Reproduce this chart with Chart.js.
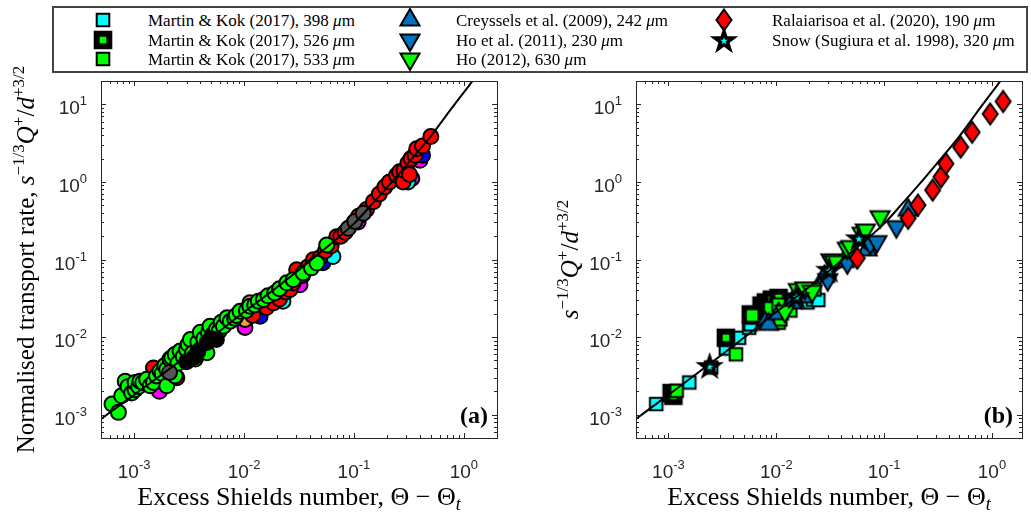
<!DOCTYPE html>
<html>
<head>
<meta charset="utf-8">
<script src="https://cdn.jsdelivr.net/npm/chart.js@4.4.0/dist/chart.umd.min.js"></script>
<style>
  html, body { margin: 0; padding: 0; background: #fff; }
  #wrap { position: relative; width: 1031px; height: 515px; overflow: hidden; }
  canvas.chart { position: absolute; top: 0; }
  #legend { position: absolute; left: 52px; top: 6px; width: 976px; height: 67px; box-sizing: border-box; border: 2px solid #444; background: #fff; }
  #legend span { position: absolute; font: 17px "Liberation Serif", serif; line-height: 17px; white-space: nowrap; transform: translateY(-50%); color: #000; }
  #legend canvas { position: absolute; }
</style>
</head>
<body>
<div id="wrap">
  <canvas id="chartA" class="chart" width="520" height="515" style="left:0"></canvas>
  <canvas id="chartB" class="chart" width="511" height="515" style="left:520px"></canvas>
  <div id="legend"></div>
</div>
<script>
// ---- axes ----
const xMin = 5e-4, xMaxA = 2, xMaxB = 1.9;
const yMin = 5e-4, yMax = 20;
const xDecades = [1e-3, 1e-2, 1e-1, 1];
const xExps = ['-3', '-2', '-1', '0'];
const yDecades = [1e-3, 1e-2, 1e-1, 1, 10];
const yExps = ['-3', '-2', '-1', '0', '1'];
const minorSteps = [2, 3, 4, 5, 6, 7, 8, 9];

// ---- fitted curve ----
const curve = [[5e-4, 8.8e-4], [1e-3, 1.8e-3], [2e-3, 3.7e-3], [5e-3, 9.8e-3], [0.01, 0.021], [0.02, 0.044],
  [0.05, 0.125], [0.1, 0.29], [0.15, 0.54], [0.2, 0.85], [0.3, 1.65], [0.5, 3.9], [0.8, 9.5], [1.2, 20], [1.5, 30]];

// ---- panel (a) ----
const greenA = [[6.3e-4, 1.37e-3], [7.2e-4, 1.07e-3], [7.7e-4, 1.75e-3], [8.3e-4, 2.7e-3], [8.8e-4, 2.3e-3], [9.5e-4, 1.9e-3],
  [1.02e-3, 2.1e-3], [1.02e-3, 2.6e-3], [1.1e-3, 2.3e-3], [1.13e-3, 2.7e-3], [1.2e-3, 2.6e-3], [1.3e-3, 2.85e-3],
  [1.4e-3, 2.35e-3], [1.5e-3, 2.6e-3], [1.6e-3, 3.15e-3], [1.72e-3, 3.65e-3], [1.8e-3, 3.4e-3], [1.9e-3, 4.3e-3],
  [1.98e-3, 3.85e-3], [1.98e-3, 2.35e-3], [2.12e-3, 5.2e-3], [2.2e-3, 5.45e-3], [2.36e-3, 6.0e-3], [2.36e-3, 3.15e-3],
  [2.5e-3, 4.6e-3], [2.62e-3, 6.6e-3], [2.8e-3, 5.6e-3], [3.0e-3, 6.9e-3], [3.1e-3, 8.1e-3], [3.25e-3, 9.3e-3],
  [3.4e-3, 6.2e-3], [3.6e-3, 5.2e-3], [3.8e-3, 8.6e-3], [4.0e-3, 6.9e-3], [4.0e-3, 0.0115], [4.3e-3, 9.5e-3],
  [4.6e-3, 6.3e-3], [4.75e-3, 0.0114], [4.9e-3, 0.0138], [5.2e-3, 0.0108], [5.6e-3, 0.0126], [5.9e-3, 0.0118],
  [6.2e-3, 0.0155], [6.5e-3, 0.0138], [7.0e-3, 0.0177], [7.5e-3, 0.016], [8.2e-3, 0.0175], [8.5e-3, 0.019],
  [9.2e-3, 0.0215], [0.0105, 0.022], [0.0113, 0.025], [0.0125, 0.026], [0.0135, 0.029], [0.015, 0.0305],
  [0.0165, 0.034], [0.019, 0.037], [0.021, 0.042], [0.0245, 0.05], [0.028, 0.055], [0.0345, 0.067],
  [0.041, 0.078], [0.046, 0.09], [0.0565, 0.154]];
const redA = [[0.0015, 0.004], [0.00245, 0.003], [0.012, 0.019], [0.016, 0.024], [0.0185, 0.0276], [0.021, 0.031],
  [0.024, 0.038], [0.0262, 0.041], [0.028, 0.0498], [0.0301, 0.0738], [0.034, 0.062], [0.038, 0.08],
  [0.0427, 0.099], [0.049, 0.105], [0.055, 0.13], [0.062, 0.15], [0.0697, 0.197], [0.076, 0.2], [0.083, 0.224],
  [0.1, 0.3], [0.11, 0.36], [0.13, 0.44], [0.15, 0.555], [0.17, 0.7], [0.191, 0.863], [0.21, 1.0], [0.244, 1.22],
  [0.26, 1.35], [0.28, 1.0], [0.285, 1.41], [0.31, 1.75], [0.32, 1.25], [0.33, 2.0], [0.359, 2.2], [0.372, 2.68],
  [0.42, 2.9], [0.5, 3.85]];
const blackA = [[0.003, 0.0048], [0.0035, 0.0055], [0.0038, 0.0065], [0.0046, 0.0085], [0.005, 0.0095], [0.0056, 0.0093]];
const greyA = [[0.0021, 0.0035], [0.0887, 0.252], [0.102, 0.31], [0.1216, 0.394]];
const magentaA = [[0.0017, 0.002], [0.0102, 0.0133], [0.0323, 0.0474], [0.109, 0.304], [0.336, 1.11], [0.398, 1.9]];
const blueA = [[0.014, 0.0186], [0.0522, 0.0908], [0.42, 2.2]];
const orangeA = [[0.0113, 0.0276], [0.0102, 0.0169]];
const cyanA = [[0.0226, 0.029], [0.0644, 0.109], [0.31, 1.0]];

// ---- panel (b) ----
const mk398 = [[7.7e-4, 1.37e-3], [1.56e-3, 2.6e-3], [2.49e-3, 4.06e-3], [3.41e-3, 7.1e-3], [4.52e-3, 9.8e-3],
  [5.6e-3, 0.0132], [5.78e-3, 0.0146], [0.0195, 0.028], [0.0219, 0.0304], [0.0245, 0.03]];
const mk526 = [[1.07e-3, 1.9e-3], [1.11e-3, 1.75e-3], [3.41e-3, 9.8e-3], [5.8e-3, 0.0196], [6.2e-3, 0.019],
  [7.3e-3, 0.0255], [8.0e-3, 0.028], [8.5e-3, 0.0249], [9.1e-3, 0.0304], [0.0105, 0.032], [0.0105, 0.0238]];
const mk533 = [[1.19e-3, 2.03e-3], [4.22e-3, 6.0e-3], [5.97e-3, 0.019], [8.8e-3, 0.0235], [0.0105, 0.0153],
  [0.0109, 0.0169], [0.0105, 0.0262], [0.0135, 0.022], [0.0226, 0.041]];
const creyssels = [[7.9e-3, 0.0153], [8.5e-3, 0.0146], [0.0105, 0.02], [0.0139, 0.0276], [0.0175, 0.033],
  [0.028, 0.0605], [0.0426, 0.094], [0.0695, 0.133], [0.167, 0.433]];
const ho2011 = [[0.03, 0.055], [0.0456, 0.0908], [0.0745, 0.162], [0.0857, 0.17], [0.13, 0.265]];
const ho2012 = [[0.012, 0.0215], [0.016, 0.041], [0.0184, 0.043], [0.0215, 0.039], [0.0321, 0.099], [0.0345, 0.094],
  [0.0456, 0.14], [0.049, 0.147], [0.0625, 0.218], [0.067, 0.24], [0.0918, 0.356]];
const ralaiarisoa = [[0.0564, 0.104], [0.167, 0.34], [0.206, 0.503], [0.282, 0.784], [0.337, 1.16], [0.374, 1.72],
  [0.513, 2.81], [0.655, 4.37], [0.964, 7.53], [1.27, 10.9]];
const snow = [[2.41e-3, 4.25e-3], [0.0154, 0.0336], [0.031, 0.0738], [0.0583, 0.188]];

const legendLabels = ['Martin &amp; Kok (2017), 398', 'Martin &amp; Kok (2017), 526', 'Martin &amp; Kok (2017), 533',
  'Creyssels et al. (2009), 242', 'Ho et al. (2011), 230', 'Ho (2012), 630',
  'Ralaiarisoa et al. (2020), 190', 'Snow (Sugiura et al. 1998), 320'];

const SERIF = '"Liberation Serif", serif';
const SANS = '"Liberation Sans", Arial, sans-serif';
const BLUE = '#0072BD';

function pts(arr) { return arr.map(p => ({ x: p[0], y: p[1] })); }

function logTicks(min, max) {
  const out = [];
  for (let e = -4; e <= 1; e++) {
    const d = Math.pow(10, e);
    [1].concat(minorSteps).forEach(m => {
      const v = m * d;
      if (v >= min * 0.999 && v <= max * 1.001) out.push({ value: v, mj: m === 1 });
    });
  }
  return out;
}

function makeMarker(kind, fill, lw) {
  const c = document.createElement('canvas');
  c.width = 30; c.height = 30;
  const g = c.getContext('2d'), m = 15;
  g.beginPath();
  if (kind === 'square') {
    g.rect(m - 6.3, m - 6.3, 12.6, 12.6);
  } else if (kind === 'triUp' || kind === 'triDown') {
    const r = 11, s = kind === 'triUp' ? -1 : 1;
    g.moveTo(m, m + s * r);
    g.lineTo(m + r * 0.866, m - s * r * 0.5);
    g.lineTo(m - r * 0.866, m - s * r * 0.5);
  } else if (kind === 'diamond') {
    g.moveTo(m, m - 10.5); g.lineTo(m + 7.5, m); g.lineTo(m, m + 10.5); g.lineTo(m - 7.5, m);
  } else if (kind === 'star') {
    for (let i = 0; i < 10; i++) {
      const ang = -Math.PI / 2 + i * Math.PI / 5, rr = i % 2 ? 3.7 : 9.5;
      const px = m + rr * Math.cos(ang), py = m + 1 + rr * Math.sin(ang);
      i ? g.lineTo(px, py) : g.moveTo(px, py);
    }
  }
  g.closePath();
  g.fillStyle = fill; g.fill();
  g.lineJoin = 'miter'; g.lineWidth = lw; g.strokeStyle = '#000'; g.stroke();
  return c;
}

const markers = [
  makeMarker('square', '#00FFFF', 2),
  makeMarker('square', '#00FF00', 6),
  makeMarker('square', '#00FF00', 2),
  makeMarker('triUp', BLUE, 2),
  makeMarker('triDown', BLUE, 2),
  makeMarker('triDown', '#00FF00', 2),
  makeMarker('diamond', '#FF0000', 2),
  makeMarker('star', '#00FFFF', 3.5)
];

function richWidth(ctx, segs) {
  let w = 0;
  segs.forEach(s => { ctx.font = s.f; w += ctx.measureText(s.t).width; });
  return w;
}
function drawRich(ctx, segs, x, y, align) {
  const w = richWidth(ctx, segs);
  let cx = align === 'center' ? x - w / 2 : align === 'right' ? x - w : x;
  ctx.textAlign = 'left'; ctx.textBaseline = 'alphabetic';
  segs.forEach(s => {
    ctx.font = s.f;
    ctx.fillText(s.t, cx, y + (s.dy || 0));
    cx += ctx.measureText(s.t).width;
  });
}

const xTitle = [{ t: 'Excess Shields number, \u0398 \u2212 \u0398', f: `26px ${SERIF}` }, { t: 't', f: `italic 18px ${SERIF}`, dy: 5 }];
const qSegs = [
  { t: 's', f: `italic 25px ${SERIF}` }, { t: '\u22121/3', f: `17px ${SERIF}`, dy: -10 },
  { t: 'Q', f: `italic 25px ${SERIF}` }, { t: '+', f: `17px ${SERIF}`, dy: -10 },
  { t: '/', f: `25px ${SERIF}` }, { t: 'd', f: `italic 25px ${SERIF}` }, { t: '+3/2', f: `17px ${SERIF}`, dy: -10 }
];
const yTitleA = [{ t: 'Normalised transport rate, ', f: `25px ${SERIF}` }].concat(qSegs);

const frame = {
  id: 'frame',
  afterDraw(chart, args, o) {
    const ctx = chart.ctx, a = chart.chartArea, xs = chart.scales.x, ys = chart.scales.y;
    ctx.save();
    ctx.strokeStyle = '#262626'; ctx.lineWidth = 1;
    ctx.beginPath();
    xs.ticks.forEach(t => {
      const p = Math.round(xs.getPixelForValue(t.value)) + 0.5, L = t.mj ? 5 : 3;
      ctx.moveTo(p, a.bottom); ctx.lineTo(p, a.bottom - L);
      ctx.moveTo(p, a.top); ctx.lineTo(p, a.top + L);
    });
    ys.ticks.forEach(t => {
      const p = Math.round(ys.getPixelForValue(t.value)) + 0.5, L = t.mj ? 5 : 3;
      ctx.moveTo(a.left, p); ctx.lineTo(a.left + L, p);
      ctx.moveTo(a.right, p); ctx.lineTo(a.right - L, p);
    });
    ctx.stroke();
    ctx.strokeRect(Math.round(a.left) + 0.5, Math.round(a.top) + 0.5, Math.round(a.right - a.left), Math.round(a.bottom - a.top));

    ctx.fillStyle = '#262626';
    xDecades.forEach((v, i) => {
      drawRich(ctx, [{ t: '10', f: `19px ${SANS}` }, { t: xExps[i], f: `13px ${SANS}`, dy: -9 }], xs.getPixelForValue(v), 478, 'center');
    });
    yDecades.forEach((v, i) => {
      drawRich(ctx, [{ t: '10', f: `19px ${SANS}` }, { t: yExps[i], f: `13px ${SANS}`, dy: -9 }], a.left - 14, ys.getPixelForValue(v) + 10, 'right');
    });

    ctx.fillStyle = '#000';
    drawRich(ctx, xTitle, (a.left + a.right) / 2, 505, 'center');
    ctx.save();
    ctx.translate(o.yTitleX, (a.top + a.bottom) / 2);
    ctx.rotate(-Math.PI / 2);
    drawRich(ctx, o.yTitle, 0, 0, 'center');
    ctx.restore();

    ctx.font = `bold 24px ${SERIF}`;
    ctx.textAlign = 'right';
    ctx.fillText(o.label, a.right - 9, a.bottom - 15);
    ctx.restore();
  }
};

function scalesFor(xMax, yWidth) {
  return {
    x: {
      type: 'logarithmic', min: xMin, max: xMax,
      grid: { display: false }, border: { display: false }, ticks: { display: false },
      afterBuildTicks: s => { s.ticks = logTicks(s.min, s.max); },
      afterFit: s => { s.height = 77; }
    },
    y: {
      type: 'logarithmic', min: yMin, max: yMax,
      grid: { display: false }, border: { display: false }, ticks: { display: false },
      afterBuildTicks: s => { s.ticks = logTicks(s.min, s.max); },
      afterFit: s => { s.width = yWidth; }
    }
  };
}

const curveSet = {
  type: 'line', data: pts(curve), showLine: true, borderColor: '#000', borderWidth: 2,
  pointRadius: 0, cubicInterpolationMode: 'monotone', order: 0
};

function circles(arr, fill, order) {
  return {
    data: pts(arr), pointStyle: 'circle', pointRadius: 7.5, pointBorderWidth: 2,
    pointBackgroundColor: fill, pointBorderColor: '#000', order: order
  };
}

new Chart(document.getElementById('chartA'), {
  type: 'scatter',
  data: {
    datasets: [
      Object.assign({}, curveSet),
      circles(greyA, '#555555', 1),
      circles(blackA, '#000000', 2),
      circles(greenA, '#00FF00', 3),
      circles(redA, '#FF0000', 4),
      circles(orangeA, '#F0A030', 5),
      circles(cyanA, '#00FFFF', 6),
      circles(blueA, '#0000FF', 7),
      circles(magentaA, '#FF00FF', 8)
    ]
  },
  options: {
    responsive: false, animation: false, events: [],
    layout: { padding: { top: 81, right: 23, left: 0, bottom: 0 } },
    plugins: { legend: { display: false }, tooltip: { enabled: false },
      frame: { yTitle: yTitleA, yTitleX: 34, label: '(a)' } },
    scales: scalesFor(xMaxA, 101)
  },
  plugins: [frame]
});

const seriesB = [mk398, mk526, mk533, creyssels, ho2011, ho2012, ralaiarisoa, snow];
const setsB = [Object.assign({}, curveSet, { data: pts(curve) })];
seriesB.forEach((arr, i) => {
  setsB.push({ data: pts(arr), pointStyle: markers[i], pointRadius: 8, order: 8 - i });
});

new Chart(document.getElementById('chartB'), {
  type: 'scatter',
  data: { datasets: setsB },
  options: {
    responsive: false, animation: false, events: [],
    layout: { padding: { top: 81, right: 4, left: 0, bottom: 0 } },
    plugins: { legend: { display: false }, tooltip: { enabled: false },
      frame: { yTitle: qSegs, yTitleX: 58, label: '(b)' } },
    scales: scalesFor(xMaxB, 116)
  },
  plugins: [frame]
});

// ---- legend box (column-major, 3 rows) ----
const lg = document.getElementById('legend');
const colMarkerX = [103, 410, 724], colTextX = [148, 456, 772], rowY = [20, 40, 59];
legendLabels.forEach((txt, i) => {
  const col = Math.floor(i / 3), row = i % 3;
  const cv = document.createElement('canvas');
  cv.width = 30; cv.height = 30;
  cv.getContext('2d').drawImage(markers[i], 0, 0);
  cv.style.left = (colMarkerX[col] - 15 - 54) + 'px';
  cv.style.top = (rowY[row] - 15 - 8) + 'px';
  lg.appendChild(cv);
  const sp = document.createElement('span');
  sp.innerHTML = txt + ' <i>\u03bc</i>m';
  sp.style.left = (colTextX[col] - 54) + 'px';
  sp.style.top = (rowY[row] - 8) + 'px';
  lg.appendChild(sp);
});
</script>
</body>
</html>
